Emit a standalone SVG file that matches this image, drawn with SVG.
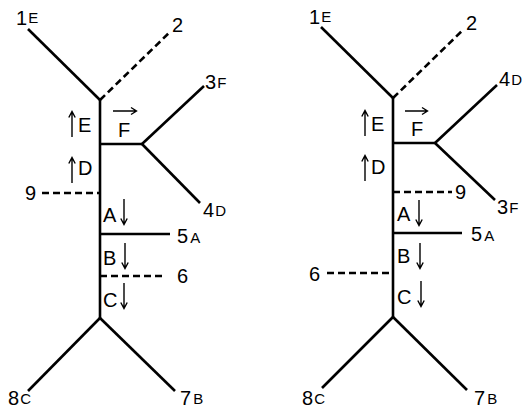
<svg xmlns="http://www.w3.org/2000/svg" width="522" height="410" viewBox="0 0 522 410">
<style>
.e{stroke:#000;stroke-width:2.6;fill:none;stroke-linecap:butt}
.d{stroke-dasharray:7 4}
.t{font-family:"Liberation Sans",Arial,sans-serif;font-size:20px;fill:#000}
.s{font-size:15px}
.va{stroke:#000;stroke-width:1.4;fill:none}
</style>
<defs>
<path id="up" class="va" d="M0,0 V-25 M-3.2,-19.5 L0,-25.5 L3.2,-19.5"/>
<path id="dn" class="va" d="M0,0 V25 M-3.2,19.5 L0,25.5 L3.2,19.5"/>
</defs>
<rect width="522" height="410" fill="#fff"/>
<g id="connectors">
<path class="e" d="M28,29 L100,100"/>
<path class="e d" d="M100,100 L171,31"/>
<path class="e" d="M100,100 V318"/>
<path class="e" d="M100,144 H142"/>
<path class="e" d="M142,144 L204,86"/>
<path class="e" d="M142,144 L200,203"/>
<path class="e d" d="M42,193 H100"/>
<path class="e" d="M100,234 H170"/>
<path class="e d" d="M100,276 H166"/>
<path class="e" d="M100,318 L28,391"/>
<path class="e" d="M100,318 L175,391"/>
<path class="e" d="M321,27 L393,98"/>
<path class="e d" d="M393,98 L464,29"/>
<path class="e" d="M393,98 V317"/>
<path class="e" d="M393,143 H435"/>
<path class="e" d="M435,143 L497,85"/>
<path class="e" d="M435,143 L495,200"/>
<path class="e d" d="M393,192 H452"/>
<path class="e" d="M393,233 H462"/>
<path class="e d" d="M327,273 H393"/>
<path class="e" d="M393,317 L322,388"/>
<path class="e" d="M393,317 L467,390"/>
</g>
<g id="left-labels">
<g id="L1"><text class="t" x="16" y="25">1<tspan class="s" dx="1" dy="-2">E</tspan></text></g>
<g id="L2"><text class="t" x="172" y="32">2</text></g>
<g id="L3"><text class="t" x="205" y="89">3<tspan class="s" dx="1" dy="-1">F</tspan></text></g>
<g id="L4"><text class="t" x="203" y="217">4<tspan class="s" dx="1" dy="-1">D</tspan></text></g>
<g id="L5"><text class="t" x="177" y="243">5<tspan class="s" dx="2">A</tspan></text></g>
<g id="L6"><text class="t" x="177" y="283">6</text></g>
<g id="L9"><text class="t" x="25" y="200">9</text></g>
<g id="L8"><text class="t" x="8" y="405">8<tspan class="s" dx="1" dy="-1">C</tspan></text></g>
<g id="L7"><text class="t" x="180" y="405">7<tspan class="s" dx="2" dy="-1">B</tspan></text></g>
<g id="LE"><use href="#up" x="72" y="137"/><text class="t" x="78" y="132">E</text></g>
<g id="LD"><use href="#up" x="72" y="183"/><text class="t" x="78" y="175">D</text></g>
<g id="LF"><text class="t" x="118" y="137">F</text><path class="va" d="M113,111 H136 M131,107.5 L136.5,111 L131,114.5"/></g>
<g id="LA"><text class="t" x="103" y="222">A</text><use href="#dn" x="124" y="199"/></g>
<g id="LB"><text class="t" x="103" y="265">B</text><use href="#dn" x="125" y="243"/></g>
<g id="LC"><text class="t" x="103" y="307">C</text><use href="#dn" x="124" y="283"/></g>
</g>
<g id="right-labels">
<g id="R1"><text class="t" x="309" y="24">1<tspan class="s" dx="1" dy="-2">E</tspan></text></g>
<g id="R2"><text class="t" x="466" y="30">2</text></g>
<g id="R4"><text class="t" x="499" y="86">4<tspan class="s" dx="1" dy="-1">D</tspan></text></g>
<g id="R3"><text class="t" x="497" y="214">3<tspan class="s" dx="1" dy="-1">F</tspan></text></g>
<g id="R9"><text class="t" x="455" y="199">9</text></g>
<g id="R5"><text class="t" x="471" y="241">5<tspan class="s" dx="2">A</tspan></text></g>
<g id="R6"><text class="t" x="309" y="281">6</text></g>
<g id="R8"><text class="t" x="302" y="405">8<tspan class="s" dx="1" dy="-1">C</tspan></text></g>
<g id="R7"><text class="t" x="474" y="405">7<tspan class="s" dx="2" dy="-1">B</tspan></text></g>
<g id="RE"><use href="#up" x="365" y="136"/><text class="t" x="371" y="131">E</text></g>
<g id="RD"><use href="#up" x="365" y="181"/><text class="t" x="371" y="174">D</text></g>
<g id="RF"><text class="t" x="411" y="136">F</text><path class="va" d="M405,111 H427 M422,107.5 L427.5,111 L422,114.5"/></g>
<g id="RA"><text class="t" x="397" y="221">A</text><use href="#dn" x="419" y="200"/></g>
<g id="RB"><text class="t" x="397" y="263">B</text><use href="#dn" x="420" y="243"/></g>
<g id="RC"><text class="t" x="397" y="304">C</text><use href="#dn" x="421" y="281"/></g>
</g>
</svg>
